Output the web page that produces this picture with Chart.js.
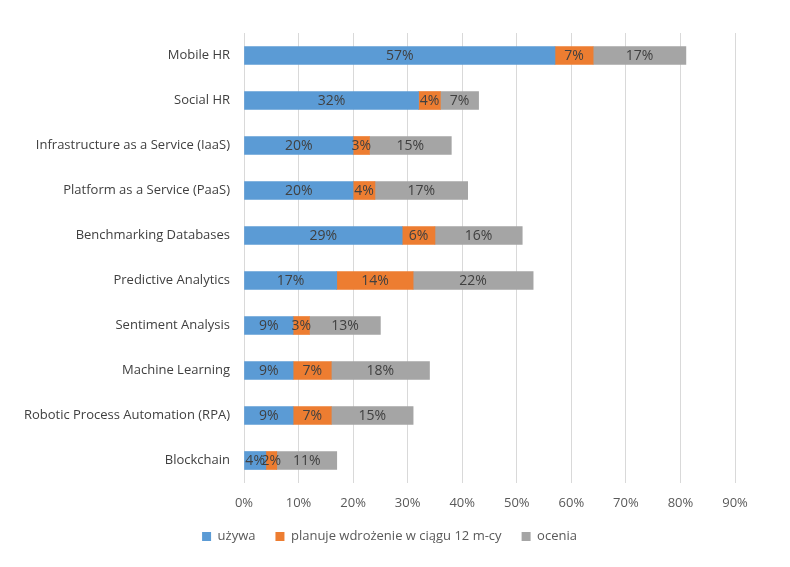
<!DOCTYPE html>
<html>
<head>
<meta charset="utf-8">
<script src="https://cdn.jsdelivr.net/npm/chart.js@4"></script>
<style>
  html, body { margin: 0; padding: 0; background: #ffffff; }
  #wrap { width: 790px; height: 567px; }
</style>
</head>
<body>
<div id="wrap"><canvas id="chart" width="790" height="567"></canvas></div>
<script>
// Categories and series (percent)
const categories = [
  'Mobile HR',
  'Social HR',
  'Infrastructure as a Service (IaaS)',
  'Platform as a Service (PaaS)',
  'Benchmarking Databases',
  'Predictive Analytics',
  'Sentiment Analysis',
  'Machine Learning',
  'Robotic Process Automation (RPA)',
  'Blockchain'
];
const uzywa = [57, 32, 20, 20, 29, 17, 9, 9, 9, 4];
const planuje = [7, 4, 3, 4, 6, 14, 3, 7, 7, 2];
const ocenia = [17, 7, 15, 17, 16, 22, 13, 18, 15, 11];
const tickLabels = ['0%', '10%', '20%', '30%', '40%', '50%', '60%', '70%', '80%', '90%'];

const FONT = "'Open Sans', 'Liberation Sans', sans-serif";

// Draw the value labels centred in each bar segment
const barLabels = {
  id: 'barLabels',
  afterDatasetsDraw(chart) {
    const ctx = chart.ctx;
    ctx.save();
    ctx.font = '14px ' + FONT;
    ctx.fillStyle = '#404040';
    ctx.textAlign = 'center';
    ctx.textBaseline = 'middle';
    chart.data.datasets.forEach((ds, i) => {
      const meta = chart.getDatasetMeta(i);
      meta.data.forEach((bar, j) => {
        const cx = (bar.x + bar.base) / 2;
        ctx.fillText(ds.data[j] + '%', cx, bar.y + 1);
      });
    });
    ctx.restore();
  }
};

new Chart(document.getElementById('chart').getContext('2d'), {
  type: 'bar',
  data: {
    labels: categories,
    datasets: [
      { label: 'używa', data: uzywa, backgroundColor: '#5B9BD5' },
      { label: 'planuje wdrożenie w ciągu 12 m-cy', data: planuje, backgroundColor: '#ED7D31' },
      { label: 'ocenia', data: ocenia, backgroundColor: '#A5A5A5' }
    ]
  },
  options: {
    indexAxis: 'y',
    responsive: false,
    animation: false,
    datasets: {
      bar: { barThickness: 18 }
    },
    layout: {
      padding: { left: 0, right: 11, top: 33, bottom: 14 }
    },
    plugins: {
      legend: {
        position: 'bottom',
        labels: {
          boxWidth: 9,
          boxHeight: 9,
          padding: 20,
          color: '#595959',
          font: { family: FONT, size: 13 }
        }
      },
      tooltip: { enabled: false }
    },
    scales: {
      x: {
        stacked: true,
        min: 0,
        max: 90,
        ticks: {
          stepSize: 10,
          color: '#595959',
          padding: 12,
          font: { family: FONT, size: 13 },
          callback: function(value, index) {
            return tickLabels[index];
          }
        },
        grid: { color: '#d9d9d9', drawTicks: false },
        border: { display: false },
        afterFit: function(scale) { scale.height = 27; }
      },
      y: {
        stacked: true,
        ticks: {
          color: '#404040',
          padding: 6,
          font: { family: FONT, size: 13 }
        },
        grid: { display: false },
        border: { display: false },
        afterFit: function(scale) { scale.width = 244; }
      },
      yRight: {
        type: 'category',
        position: 'right',
        ticks: { display: false },
        grid: { display: false },
        border: { display: false },
        afterFit: function(scale) { scale.width = 44; }
      }
    }
  },
  plugins: [barLabels]
});
</script>
</body>
</html>
